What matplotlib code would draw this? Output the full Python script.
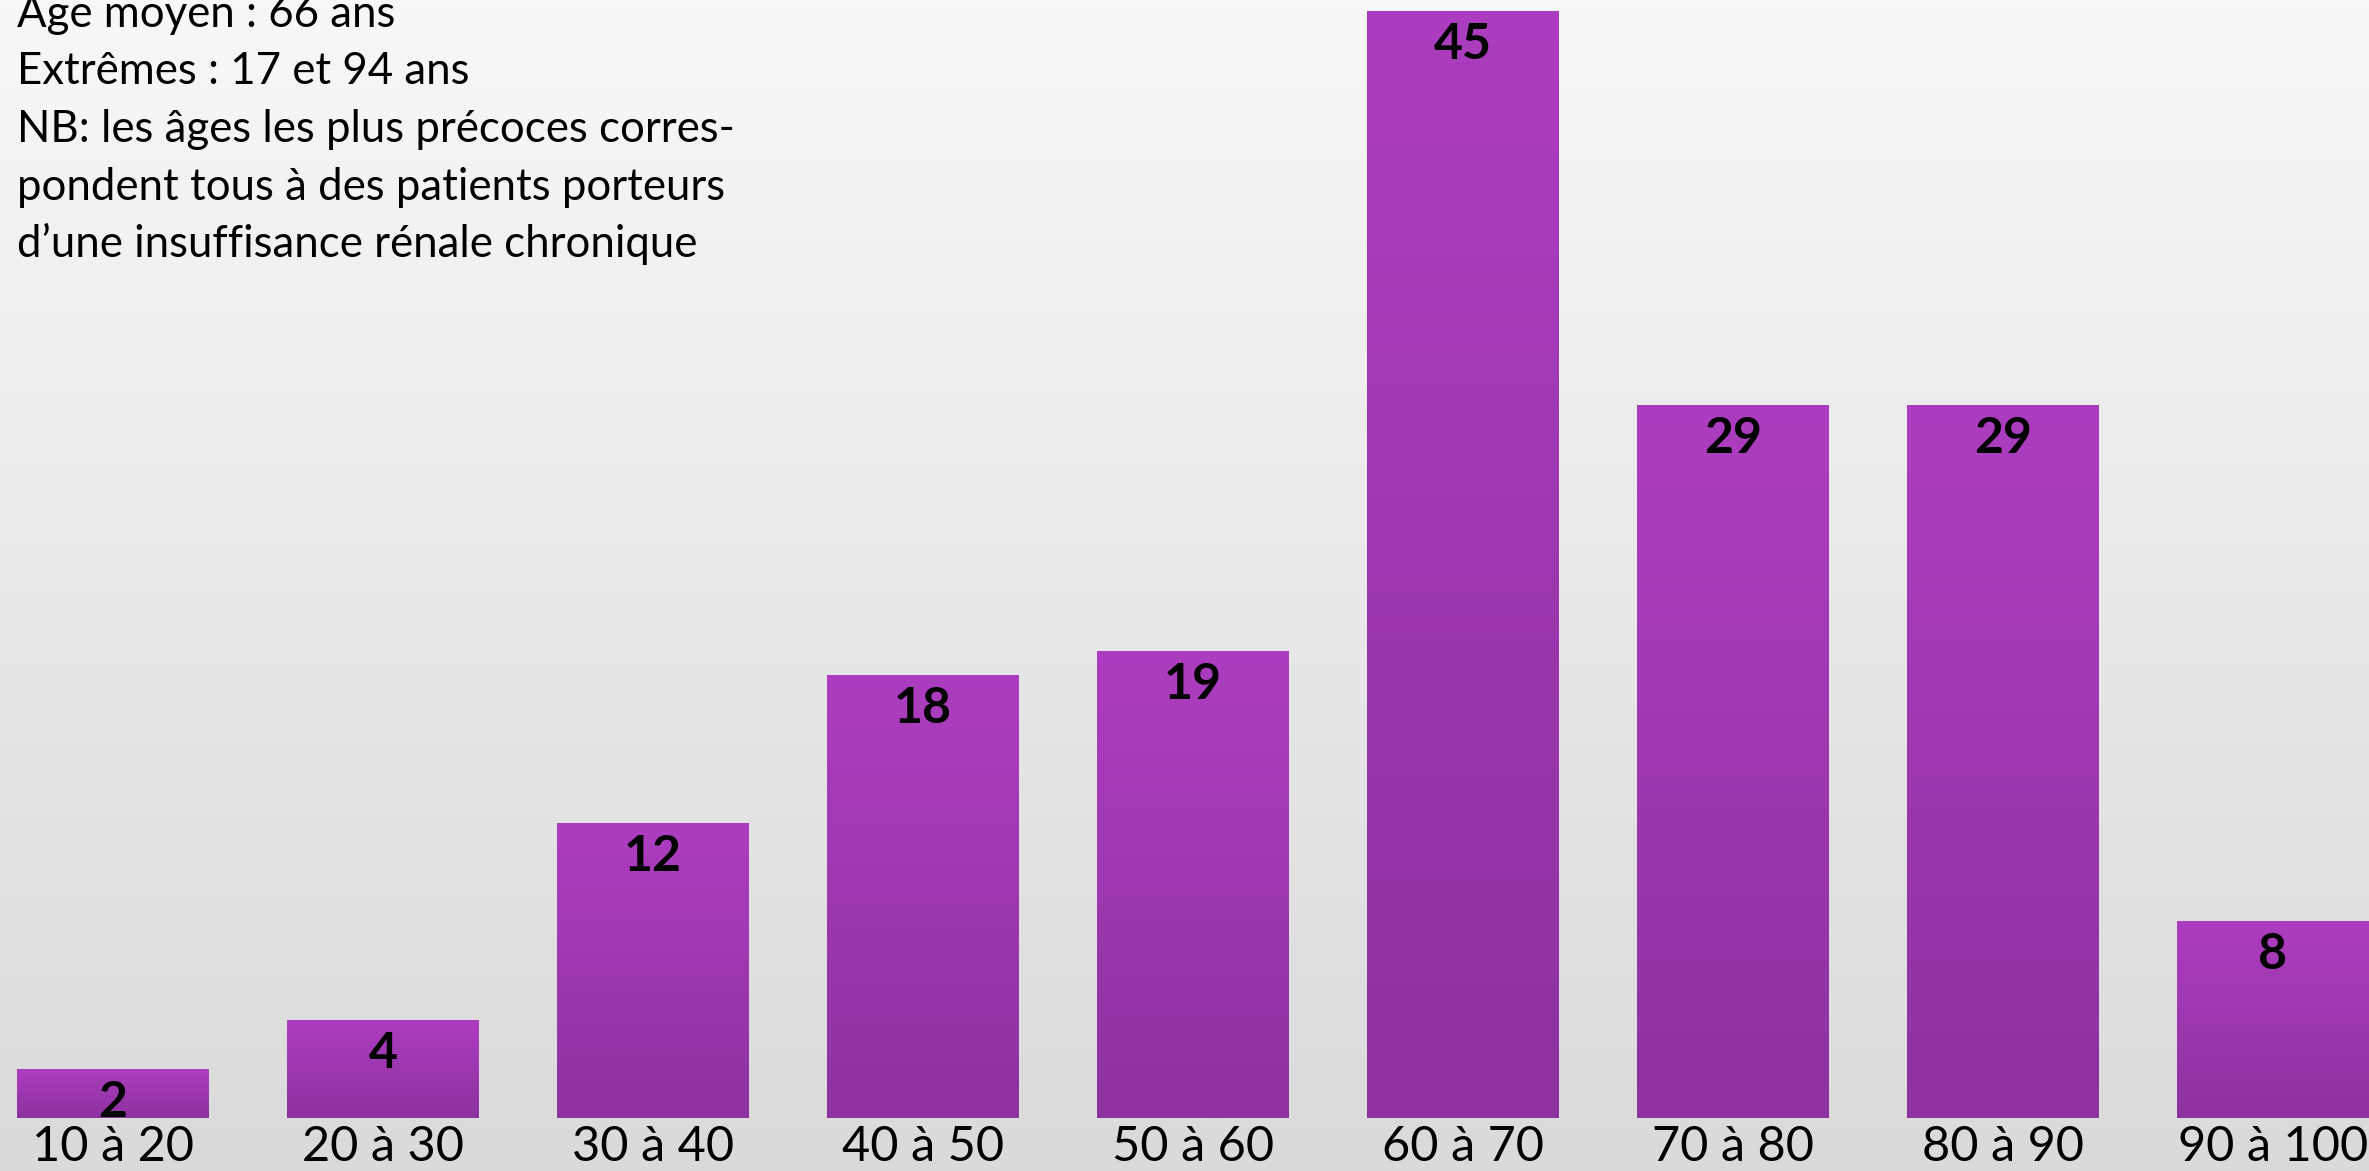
import numpy as np
import matplotlib.pyplot as plt
from matplotlib.colors import LinearSegmentedColormap

# Répartition des patients par tranche d'âge
tranches = ["10 à 20", "20 à 30", "30 à 40", "40 à 50", "50 à 60",
            "60 à 70", "70 à 80", "80 à 90", "90 à 100"]
effectifs = [2, 4, 12, 18, 19, 45, 29, 29, 8]

notes = ["Âge moyen : 66 ans",
         "Extrêmes : 17 et 94 ans",
         "NB: les âges les plus précoces corres-",
         "pondent tous à des patients porteurs",
         "d\u2019une insuffisance rénale chronique"]

plt.rcParams['font.family'] = ['Lato', 'DejaVu Sans']

W, H = 2369, 1171
fig = plt.figure(figsize=(W / 100, H / 100), dpi=100)

# fond en dégradé gris
bg = fig.add_axes([0, 0, 1, 1], zorder=-2)
bg_cmap = LinearSegmentedColormap.from_list("fond", ["#dadada", "#f8f8f8"])
bg.imshow(np.linspace(0, 1, 256)[::-1].reshape(-1, 1), cmap=bg_cmap,
          aspect="auto", extent=[0, 1, 0, 1], origin="upper")
bg.axis("off")

ax = fig.add_axes([0, 53 / H, 1, 1 - 53 / H])
ax.patch.set_alpha(0)

x = np.arange(len(tranches))
bars = ax.bar(x, effectifs, width=0.711, color="none", edgecolor="none")

# dégradé violet dans chaque barre
bar_cmap = LinearSegmentedColormap.from_list("violet", ["#8d329f", "#ad3dc0"])
grad = np.linspace(0, 1, 256).reshape(-1, 1)
for b in bars:
    x0, w, h = b.get_x(), b.get_width(), b.get_height()
    im = ax.imshow(grad, cmap=bar_cmap, aspect="auto", origin="lower",
                   extent=[x0, x0 + w, 0, h], zorder=1)
    im.set_clip_path(b)

for xi, v in zip(x, effectifs):
    ax.annotate(str(v), (xi, v), xytext=(0, -8), textcoords="offset points",
                ha="center", va="top", fontsize=36, fontweight="bold",
                color="black", zorder=3)

ax.set_xlim(-0.4185, 8.356)
ax.set_ylim(0, 45.45)
ax.set_xticks(x)
ax.set_xticklabels(tranches, fontsize=35)
ax.tick_params(axis="x", length=0, pad=5)
ax.set_yticks([])
for s in ax.spines.values():
    s.set_visible(False)

# encadré de commentaires en haut à gauche
for i, ligne in enumerate(notes):
    fig.text(17 / W, 1 - (27 + 57.5 * i) / H, ligne, fontsize=31.5,
             ha="left", va="baseline", color="black")

fig.savefig("out.png", dpi=100)
